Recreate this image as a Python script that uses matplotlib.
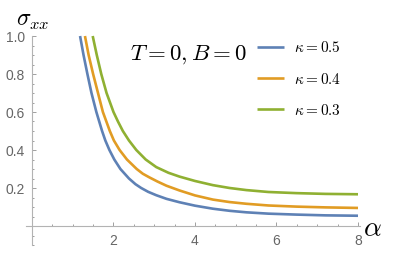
import matplotlib
matplotlib.use("Agg")
import matplotlib.pyplot as plt
import numpy as np

plt.rcParams['mathtext.fontset'] = 'cm'

# Data (alpha, sigma_xx)
alpha_k05 = [1.18, 1.265, 1.36, 1.46, 1.58, 1.72, 1.80, 1.90, 2.02, 2.17, 2.38, 2.54, 2.68, 2.85,
             3.05, 3.30, 3.62, 4.00, 4.44, 4.85, 5.26, 5.80, 6.49, 7.20, 8.00]
sigma_k05 = [1.0, 0.9, 0.8, 0.7, 0.6, 0.5, 0.45, 0.4, 0.35, 0.3, 0.25, 0.22, 0.2, 0.18,
             0.162, 0.143, 0.125, 0.107, 0.091, 0.080, 0.072, 0.065, 0.060, 0.056, 0.054]

alpha_k04 = [1.30, 1.39, 1.50, 1.62, 1.74, 1.91, 2.01, 2.15, 2.33, 2.57, 2.72, 2.88,
             3.08, 3.30, 3.62, 4.00, 4.44, 4.85, 5.26, 5.80, 6.49, 7.20, 8.00]
sigma_k04 = [1.0, 0.9, 0.8, 0.7, 0.6, 0.5, 0.45, 0.4, 0.35, 0.3, 0.275, 0.256,
             0.234, 0.212, 0.187, 0.161, 0.139, 0.126, 0.117, 0.108, 0.102, 0.098, 0.095]

alpha_k03 = [1.49, 1.59, 1.70, 1.83, 2.00, 2.11, 2.23, 2.38, 2.56, 2.79, 3.05, 3.35,
             3.62, 4.00, 4.44, 4.85, 5.26, 5.80, 6.49, 7.20, 8.00]
sigma_k03 = [1.0, 0.9, 0.8, 0.7, 0.6, 0.55, 0.5, 0.45, 0.4, 0.35, 0.31, 0.28,
             0.26, 0.237, 0.215, 0.200, 0.189, 0.179, 0.173, 0.169, 0.167]

labels = [r'$\kappa = 0.5$', r'$\kappa = 0.4$', r'$\kappa = 0.3$']
colors = ['#5E81B5', '#E19C24', '#8FB032']

x_major = [2, 4, 6, 8]
y_major = [0.2, 0.4, 0.6, 0.8, 1.0]
y_major_labels = ['0.2', '0.4', '0.6', '0.8', '1.0']

W, H = 399, 264
fig = plt.figure(figsize=(W / 100, H / 100), dpi=100)
ax = fig.add_axes([11.6 / W, 1 - 254.5 / H, (390.6 - 11.6) / W, (254.5 - 20.8) / H])
ax.set_xlim(-0.5, 8.8)
ax.set_ylim(-0.15, 1.08)

for xs, ys, lab, c in zip([alpha_k05, alpha_k04, alpha_k03],
                          [sigma_k05, sigma_k04, sigma_k03], labels, colors):
    ax.plot(xs, ys, color=c, lw=1.9, label=lab, solid_joinstyle='round', solid_capstyle='butt')

axcol = '#b3b3b3'
for s in ['top', 'right']:
    ax.spines[s].set_visible(False)
ax.spines['left'].set_position(('data', 0))
ax.spines['bottom'].set_position(('data', 0))
ax.spines['left'].set_bounds(-0.1, 1.0)
ax.spines['bottom'].set_bounds(-0.15, 8.05)
for s in ['left', 'bottom']:
    ax.spines[s].set_color(axcol)
    ax.spines[s].set_linewidth(0.8)

ax.set_xticks(x_major)
ax.set_xticks([v for v in np.arange(0.5, 8.01, 0.5) if v % 2 != 0], minor=True)
ax.set_yticks(y_major)
ax.set_yticklabels(y_major_labels)
yminor = [v for v in np.round(np.arange(-0.1, 1.001, 0.05), 2)
          if abs(v) > 1e-9 and min(abs(v - m) for m in y_major) > 1e-6]
ax.set_yticks(yminor, minor=True)
ax.tick_params(which='both', direction='in', color='#a0a0a0', width=0.7,
               labelcolor='#666666', labelsize=10)
ax.tick_params(which='major', length=3.0)
ax.tick_params(which='minor', length=1.6)
ax.tick_params(axis='x', pad=6)
ax.tick_params(axis='y', pad=5)
for lbl in ax.get_xticklabels() + ax.get_yticklabels():
    lbl.set_fontfamily('Liberation Sans')

fig.text(16 / W, 1 - 20 / H, r'$\sigma_{xx}$', fontsize=17, ha='left', va='center')
fig.text(363 / W, 1 - 228 / H, r'$\alpha$', fontsize=20, ha='left', va='center')
fig.text(188 / W, 1 - 55 / H, r'$T=0,B=0$', fontsize=16.5, ha='center', va='center')

leg = ax.legend(loc='upper left', bbox_to_anchor=(257 / W, 1 - 40.5 / H),
                bbox_transform=fig.transFigure, frameon=False, fontsize=11,
                handlelength=1.75, handletextpad=0.65, labelspacing=1.05,
                borderpad=0, borderaxespad=0)

fig.savefig('out.png', dpi=100)
